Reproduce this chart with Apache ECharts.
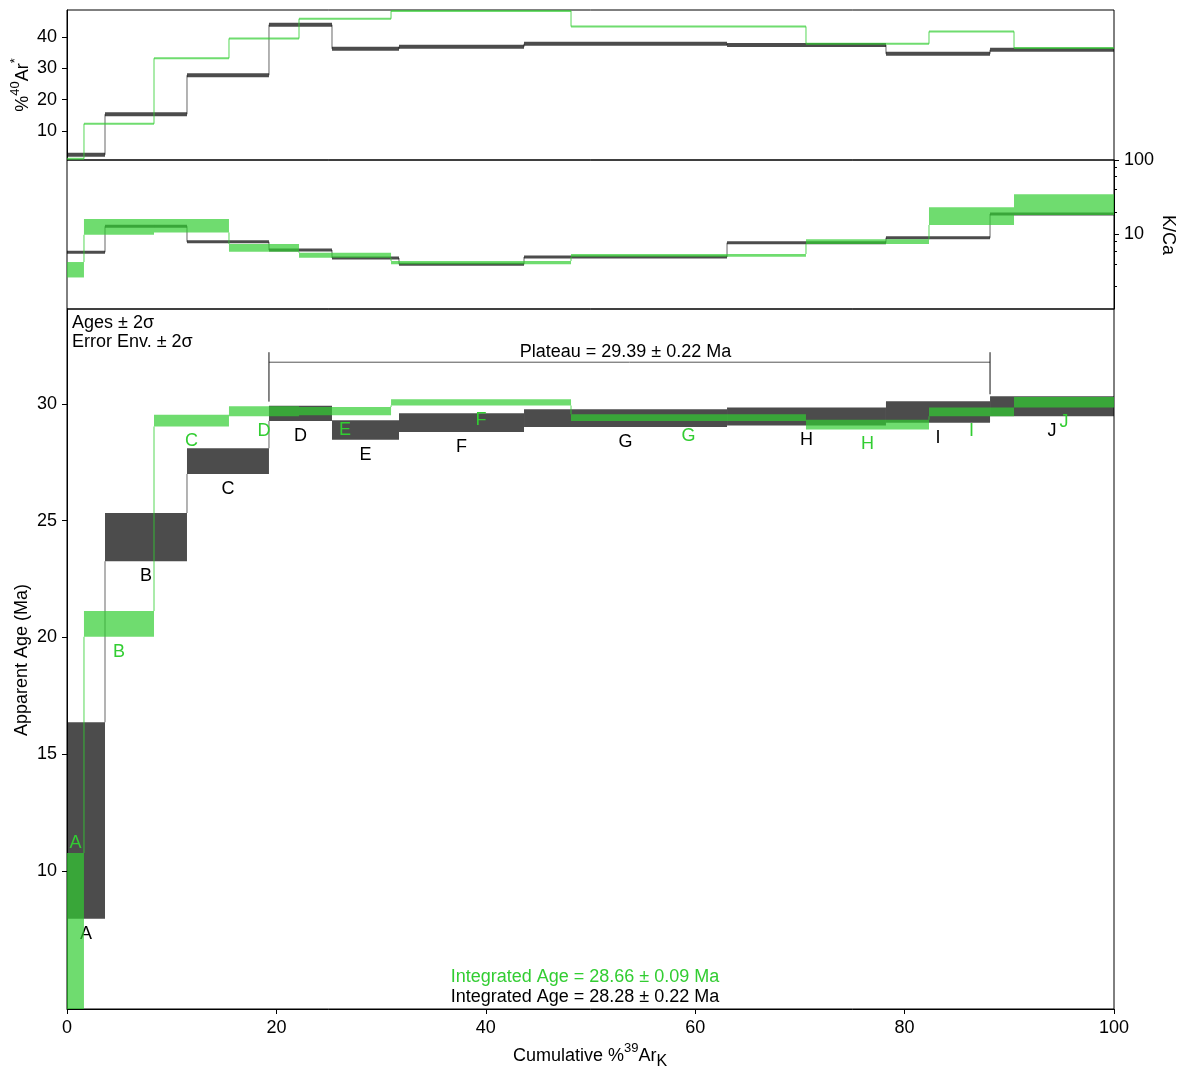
<!DOCTYPE html>
<html><head><meta charset="utf-8">
<script src="https://cdn.jsdelivr.net/npm/echarts@6/dist/echarts.min.js"></script>
<style>html,body{margin:0;padding:0;background:#fff}#c{width:1180px;height:1072px}</style>
</head><body><div id="c"></div>
<script>
// ---- data ----
const stepLabels = ['A','B','C','D','E','F','G','H','I','J'];
const blackCum = [0, 3.63, 11.46, 19.29, 25.31, 31.71, 43.65, 63.04, 78.22, 88.16, 100];
const greenCum = [0, 1.62, 8.31, 15.47, 22.16, 30.95, 48.14, 70.58, 82.33, 90.45, 100];
const blackAgeLo = [7.95, 23.26, 27.00, 29.27, 28.47, 28.80, 29.01, 29.08, 29.20, 29.48];
const blackAgeHi = [16.36, 25.33, 28.10, 29.93, 29.30, 29.60, 29.77, 29.85, 30.12, 30.33];
const greenAgeLo = [3.00, 20.03, 29.04, 29.47, 29.52, 29.94, 29.27, 28.91, 29.48, 29.85];
const greenAgeHi = [10.76, 21.13, 29.54, 29.90, 29.87, 30.20, 29.56, 29.33, 29.85, 30.30];
const blackRad = [2.4, 15.3, 27.8, 43.9, 36.2, 36.9, 37.8, 37.4, 34.6, 35.9];
const greenRad = [1.1, 12.3, 33.2, 39.5, 45.8, 48.3, 43.3, 37.8, 41.7, 36.5];
const blackKCa = [5.77, 12.9, 8.0, 6.2, 4.84, 3.98, 4.99, 7.76, 9.06, 18.8];
const greenKCaLo = [2.65, 9.9, 10.6, 5.88, 4.88, 3.98, 5.04, 7.45, 13.4, 18.3];
const greenKCaHi = [4.27, 16.2, 16.2, 7.45, 5.70, 4.41, 5.47, 8.62, 23.2, 34.7];
const plateauFirst = 3, plateauLast = 8, plateauBracketAge = 31.79;
const plateauText = 'Plateau = 29.39 ± 0.22 Ma';
const integratedGreen = 'Integrated Age = 28.66 ± 0.09 Ma';
const integratedBlack = 'Integrated Age = 28.28 ± 0.22 Ma';
const radTicks = [10, 20, 30, 40];
const ageTicks = [10, 15, 20, 25, 30];
const kcaMajor = [10, 100];
const kcaMinor = [2, 4, 6, 8, 20, 40, 60, 80];

// ---- styling ----
const FONT = '"Liberation Sans", Arial, sans-serif';
const FS = 18;
const GREEN = '#32cd32';
const GREEN_FILL = 'rgba(50,205,50,0.7)';
const BLACK_FILL = 'rgba(0,0,0,0.7)';
const GREEN_CONN = 'rgba(50,205,50,0.55)';
const BLACK_CONN = 'rgba(0,0,0,0.4)';

function steps(cum, lo, hi) { return cum.slice(0, -1).map((x0, i) => [x0, cum[i + 1], lo[i], hi[i]]); }
function connectors(cum, lo, hi) {
  const out = [];
  for (let i = 1; i < lo.length; i++) {
    if (lo[i] > hi[i - 1]) out.push([cum[i], hi[i - 1], lo[i]]);
    else if (hi[i] < lo[i - 1]) out.push([cum[i], hi[i], lo[i - 1]]);
  }
  return out;
}
function boxRender(fill, labelColor, withLabels) {
  return function (params, api) {
    const x0 = api.value(0), x1 = api.value(1), lo = api.value(2), hi = api.value(3);
    const a = api.coord([x0, hi]), b = api.coord([x1, lo]);
    const cs = params.coordSys;
    const r = echarts.graphic.clipRectByRect(
      { x: a[0], y: a[1], width: b[0] - a[0], height: b[1] - a[1] },
      { x: cs.x, y: cs.y, width: cs.width, height: cs.height });
    const children = [];
    if (r) children.push({ type: 'rect', shape: r, style: { fill: fill } });
    if (withLabels) {
      const cx = (a[0] + b[0]) / 2;
      const below = b[1] <= cs.y + cs.height - 10;
      const ty = below ? b[1] + 15 : a[1] - 10;
      children.push({ type: 'text', style: { text: stepLabels[params.dataIndex], x: cx, y: ty, fill: labelColor,
        font: FS + 'px ' + FONT, align: 'center', verticalAlign: 'middle' } });
    }
    return { type: 'group', children: children };
  };
}
function lineRender(color, width) {
  return function (params, api) {
    const a = api.coord([api.value(0), api.value(2)]), b = api.coord([api.value(1), api.value(2)]);
    return { type: 'line', shape: { x1: a[0], y1: a[1], x2: b[0], y2: b[1] }, style: { stroke: color, lineWidth: width } };
  };
}
function connRender(color, width) {
  return function (params, api) {
    const a = api.coord([api.value(0), api.value(1)]), b = api.coord([api.value(0), api.value(2)]);
    return { type: 'line', shape: { x1: a[0], y1: a[1], x2: b[0], y2: b[1] }, style: { stroke: color, lineWidth: width } };
  };
}
function cs(xi, yi, data, render, z) {
  return { type: 'custom', xAxisIndex: xi, yAxisIndex: yi, data: data, renderItem: render, clip: true, silent: true, animation: false, z: z || 2 };
}

const plateauSeries = {
  type: 'custom', xAxisIndex: 2, yAxisIndex: 2, silent: true, animation: false, z: 5,
  data: [[blackCum[plateauFirst], blackCum[plateauLast + 1], plateauBracketAge]],
  renderItem: function (params, api) {
    const l = api.coord([api.value(0), api.value(2)]), r = api.coord([api.value(1), api.value(2)]);
    const lTop = api.coord([0, Math.max(blackAgeHi[plateauFirst], blackAgeHi[plateauFirst - 1])])[1] - 4;
    const rTop = api.coord([0, Math.max(blackAgeHi[plateauLast], blackAgeHi[plateauLast + 1])])[1] - 2;
    return { type: 'group', children: [
      { type: 'line', shape: { x1: l[0], y1: l[1], x2: r[0], y2: r[1] }, style: { stroke: '#555', lineWidth: 1 } },
      { type: 'line', shape: { x1: l[0], y1: l[1] - 10, x2: l[0], y2: lTop }, style: { stroke: '#111', lineWidth: 1 } },
      { type: 'line', shape: { x1: r[0], y1: r[1] - 10, x2: r[0], y2: rTop }, style: { stroke: '#111', lineWidth: 1 } },
      { type: 'text', style: { text: plateauText, x: (l[0] + r[0]) / 2 - 4, y: l[1] - 10, fill: '#000',
        font: FS + 'px ' + FONT, align: 'center', verticalAlign: 'middle' } }
    ] };
  }
};

const tickLabel = { color: '#000', fontSize: FS, fontFamily: FONT };
const noZero = { show: true, onZero: false, lineStyle: { color: '#000', width: 1 } };
const option = {
  animation: false,
  backgroundColor: '#fff',
  grid: [
    { left: 67, top: 10, width: 1047, height: 150, show: true, borderColor: '#000', borderWidth: 1, backgroundColor: 'transparent' },
    { left: 67, top: 160, width: 1047, height: 149, show: true, borderColor: '#000', borderWidth: 1, backgroundColor: 'transparent' },
    { left: 67, top: 309, width: 1047, height: 700, show: true, borderColor: '#000', borderWidth: 1, backgroundColor: 'transparent' }
  ],
  xAxis: [
    { gridIndex: 0, type: 'value', min: 0, max: 100, show: false },
    { gridIndex: 1, type: 'value', min: 0, max: 100, show: false },
    { gridIndex: 2, type: 'value', min: 0, max: 100, interval: 20,
      axisLine: noZero,
      axisTick: { show: true, length: 5, lineStyle: { color: '#000' } },
      axisLabel: Object.assign({ margin: 10 }, tickLabel),
      splitLine: { show: false } }
  ],
  yAxis: [
    { gridIndex: 0, type: 'value', min: 0.7, max: 48.6, position: 'left',
      axisLine: noZero,
      axisTick: { show: true, length: 5, customValues: radTicks, lineStyle: { color: '#000' } },
      axisLabel: Object.assign({ margin: 10, customValues: radTicks }, tickLabel),
      splitLine: { show: false } },
    { gridIndex: 1, type: 'log', logBase: 10, min: 1, max: 100, position: 'right',
      axisLine: noZero,
      axisTick: { show: true, length: 5, customValues: kcaMajor, lineStyle: { color: '#000' } },
      axisLabel: Object.assign({ margin: 10, customValues: kcaMajor }, tickLabel),
      splitLine: { show: false }, minorTick: { show: false } },
    { gridIndex: 2, type: 'value', min: 4.08, max: 34.07, position: 'left',
      axisLine: noZero,
      axisTick: { show: true, length: 5, customValues: ageTicks, lineStyle: { color: '#000' } },
      axisLabel: Object.assign({ margin: 10, customValues: ageTicks }, tickLabel),
      splitLine: { show: false } },
    { gridIndex: 1, type: 'log', logBase: 10, min: 1, max: 100, position: 'right',
      axisLine: { show: false, onZero: false },
      axisTick: { show: true, length: 3, customValues: kcaMinor, lineStyle: { color: '#000' } },
      axisLabel: { show: false }, splitLine: { show: false } }
  ],
  series: [
    // top: %40Ar*
    cs(0, 0, connectors(blackCum, blackRad, blackRad), connRender(BLACK_CONN, 1.5), 2),
    cs(0, 0, steps(blackCum, blackRad, blackRad), lineRender(BLACK_FILL, 4), 3),
    cs(0, 0, connectors(greenCum, greenRad, greenRad), connRender(GREEN_CONN, 1.5), 4),
    cs(0, 0, steps(greenCum, greenRad, greenRad), lineRender(GREEN_FILL, 2), 5),
    // middle: K/Ca
    cs(1, 1, connectors(blackCum, blackKCa, blackKCa), connRender(BLACK_CONN, 1.5), 2),
    cs(1, 1, steps(blackCum, blackKCa, blackKCa), lineRender(BLACK_FILL, 3), 3),
    cs(1, 1, connectors(greenCum, greenKCaLo, greenKCaHi), connRender(GREEN_CONN, 1.5), 4),
    cs(1, 1, steps(greenCum, greenKCaLo, greenKCaHi), boxRender(GREEN_FILL, GREEN, false), 5),
    // bottom: age spectrum
    cs(2, 2, connectors(blackCum, blackAgeLo, blackAgeHi), connRender(BLACK_CONN, 1.5), 2),
    cs(2, 2, steps(blackCum, blackAgeLo, blackAgeHi), boxRender(BLACK_FILL, '#000', true), 3),
    cs(2, 2, connectors(greenCum, greenAgeLo, greenAgeHi), connRender(GREEN_CONN, 1.5), 4),
    cs(2, 2, steps(greenCum, greenAgeLo, greenAgeHi), boxRender(GREEN_FILL, GREEN, true), 5),
    plateauSeries
  ],
  graphic: [
    { type: 'text', x: 72, y: 323, silent: true, style: { text: 'Ages ± 2σ', fill: '#000', fontSize: FS, fontFamily: FONT, align: 'left', verticalAlign: 'middle' } },
    { type: 'text', x: 72, y: 342, silent: true, style: { text: 'Error Env. ± 2σ', fill: '#000', fontSize: FS, fontFamily: FONT, align: 'left', verticalAlign: 'middle' } },
    { type: 'text', x: 585, y: 977, silent: true, style: { text: integratedGreen, fill: GREEN, fontSize: FS, fontFamily: FONT, align: 'center', verticalAlign: 'middle' } },
    { type: 'text', x: 585, y: 997, silent: true, style: { text: integratedBlack, fill: '#000', fontSize: FS, fontFamily: FONT, align: 'center', verticalAlign: 'middle' } },
    { type: 'text', x: 22, y: 660, rotation: Math.PI / 2, silent: true, style: { text: 'Apparent Age (Ma)', fill: '#000', fontSize: FS, fontFamily: FONT, align: 'center', verticalAlign: 'middle' } },
    { type: 'text', x: 1168, y: 235, rotation: -Math.PI / 2, silent: true, style: { text: 'K/Ca', fill: '#000', fontSize: FS, fontFamily: FONT, align: 'center', verticalAlign: 'middle' } },
    { type: 'text', x: 23, y: 85, rotation: Math.PI / 2, silent: true, style: {
      text: '{n|%}{s|40}{n|Ar}{s|*}', fill: '#000', fontSize: FS, fontFamily: FONT, align: 'center', verticalAlign: 'middle',
      rich: { n: { fontSize: FS, fontFamily: FONT, lineHeight: 28, verticalAlign: 'middle', fill: '#000' },
              s: { fontSize: 13, fontFamily: FONT, verticalAlign: 'top', fill: '#000' } } } },
    { type: 'text', x: 590, y: 1056, silent: true, style: {
      text: '{n|Cumulative %}{s|39}{n|Ar}{b|K}', fill: '#000', fontSize: FS, fontFamily: FONT, align: 'center', verticalAlign: 'middle',
      rich: { n: { fontSize: FS, fontFamily: FONT, lineHeight: 28, verticalAlign: 'middle', fill: '#000' },
              s: { fontSize: 13, fontFamily: FONT, verticalAlign: 'top', fill: '#000' },
              b: { fontSize: 16, fontFamily: FONT, verticalAlign: 'bottom', fill: '#000' } } } }
  ]
};
const chart = echarts.init(document.getElementById('c'), null, { renderer: 'canvas' });
chart.setOption(option);
</script>
</body></html>
